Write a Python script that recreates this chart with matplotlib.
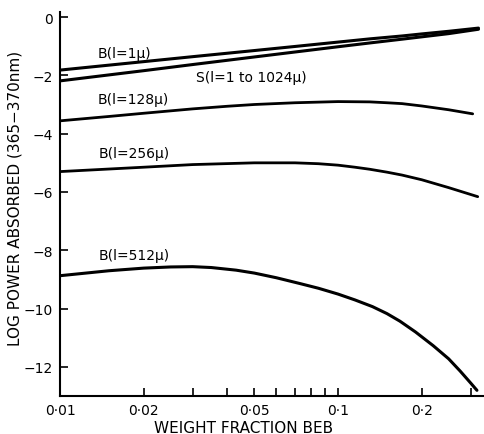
# Log power absorbed vs weight fraction BEB, redrawn from a scanned figure
import matplotlib
matplotlib.use("Agg")
import matplotlib.pyplot as plt

# values
x_common = [0.01, 0.02, 0.03, 0.05, 0.07, 0.1, 0.13, 0.17, 0.2, 0.25, 0.32]
b_1     = [-1.82, -1.53, -1.36, -1.15, -1.01, -0.86, -0.75, -0.65, -0.58, -0.49, -0.38]
s_all   = [-2.19, -1.84, -1.63, -1.37, -1.20, -1.02, -0.89, -0.76, -0.68, -0.57, -0.42]

x_128   = [0.01, 0.015, 0.02, 0.03, 0.04, 0.05, 0.07, 0.1, 0.13, 0.15, 0.17, 0.2, 0.25, 0.305]
b_128   = [-3.56, -3.41, -3.30, -3.15, -3.06, -3.00, -2.94, -2.90, -2.91, -2.94, -2.97,
           -3.05, -3.18, -3.32]

x_256   = [0.01, 0.02, 0.03, 0.05, 0.07, 0.085, 0.1, 0.115, 0.13, 0.15, 0.17, 0.2, 0.25, 0.318]
b_256   = [-5.30, -5.15, -5.06, -5.00, -5.00, -5.03, -5.08, -5.15, -5.22, -5.32, -5.42,
           -5.58, -5.85, -6.16]

x_512   = [0.01, 0.015, 0.02, 0.025, 0.03, 0.035, 0.043, 0.05, 0.06, 0.073, 0.085, 0.1,
           0.115, 0.133, 0.15, 0.167, 0.19, 0.22, 0.25, 0.275, 0.30, 0.316]
b_512   = [-8.87, -8.70, -8.61, -8.57, -8.56, -8.59, -8.68, -8.78, -8.94, -9.14, -9.30,
           -9.50, -9.70, -9.93, -10.17, -10.43, -10.80, -11.27, -11.72, -12.14, -12.55,
           -12.80]

tick_pos    = [0.01, 0.02, 0.03, 0.04, 0.05, 0.06, 0.07, 0.08, 0.09, 0.1, 0.2, 0.3]
tick_labels = ["0·01", "0·02", "", "", "0·05", "", "", "", "", "0·1", "0·2", ""]
y_ticks     = [0, -2, -4, -6, -8, -10, -12]

# curve labels: (text, x, y)
labels = [
    ("B(l=1μ)", 0.0136, -1.22),
    ("S(l=1 to 1024μ)", 0.0309, -2.05),
    ("B(l=128μ)", 0.0136, -2.82),
    ("B(l=256μ)", 0.0138, -4.65),
    ("B(l=512μ)", 0.0138, -8.17),
]

plt.rcParams["font.family"] = ["DejaVu Sans"]

fig = plt.figure(figsize=(4.84, 4.35), dpi=100)
ax = fig.add_axes([0.124, 0.087, 0.876, 0.883])

ax.plot(x_common, b_1, color="black", lw=2.2, solid_capstyle="round")
ax.plot(x_common, s_all, color="black", lw=2.2, solid_capstyle="round")
ax.plot(x_128, b_128, color="black", lw=2.0, solid_capstyle="round")
ax.plot(x_256, b_256, color="black", lw=2.0, solid_capstyle="round")
ax.plot(x_512, b_512, color="black", lw=2.2, solid_capstyle="round")

for txt, tx, ty in labels:
    ax.text(tx, ty, txt, fontsize=10, va="center", ha="left")

ax.set_xscale("log")
ax.set_xlim(0.01, 0.335)
ax.set_ylim(-13, 0.17)

ax.xaxis.set_minor_locator(matplotlib.ticker.NullLocator())
ax.set_xticks(tick_pos)
ax.set_xticklabels(tick_labels)
ax.set_yticks(y_ticks)
ax.set_yticklabels(["0" if v == 0 else "−%d" % -v for v in y_ticks])

ax.tick_params(direction="in", length=6, width=1.2, labelsize=10, pad=5)

for side in ["top", "right"]:
    ax.spines[side].set_visible(False)
for side in ["left", "bottom"]:
    ax.spines[side].set_linewidth(1.5)

ax.set_xlabel("WEIGHT FRACTION BEB", fontsize=11)
ax.xaxis.set_label_coords(0.432, -0.062)
ax.set_ylabel("LOG POWER ABSORBED (365−370nm)", fontsize=11)
ax.yaxis.set_label_coords(-0.088, 0.518)

fig.savefig("out.png", dpi=100)
plt.close(fig)
